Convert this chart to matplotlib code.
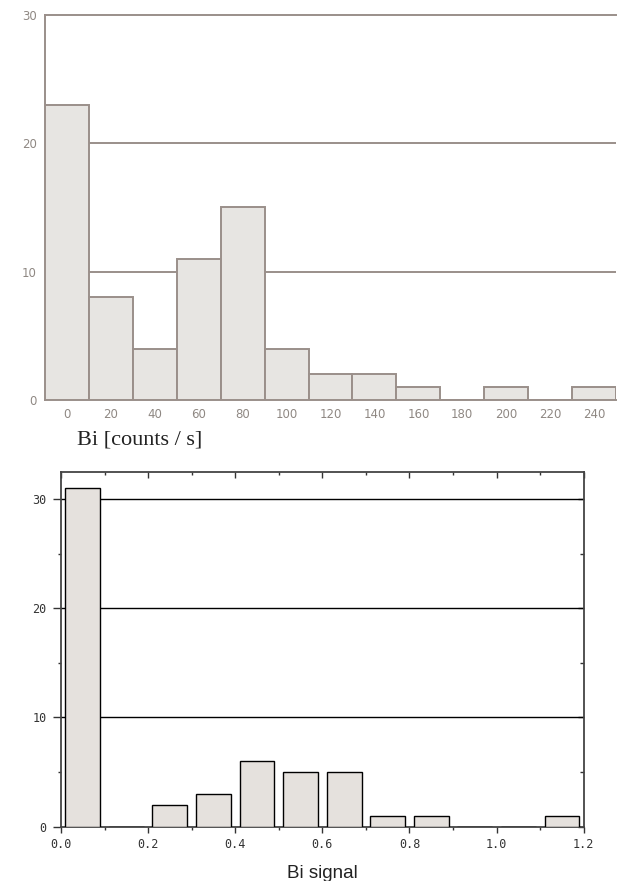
import matplotlib
matplotlib.use("Agg")
import matplotlib.pyplot as plt

# top panel: Bi [counts / s]
top_bins = [0, 20, 40, 60, 80, 100, 120, 140, 160, 180, 200, 220, 240]
top_counts = [23, 8, 4, 11, 15, 4, 2, 2, 1, 0, 1, 0, 1]
top_yticks = [0, 10, 20, 30]

# bottom panel: Bi signal
bot_bins = [0.05, 0.15, 0.25, 0.35, 0.45, 0.55, 0.65, 0.75, 0.85, 0.95, 1.05, 1.15]
bot_counts = [31, 0, 2, 3, 6, 5, 5, 1, 1, 0, 0, 1]
bot_xticks = [0.0, 0.2, 0.4, 0.6, 0.8, 1.0, 1.2]
bot_yticks = [0, 10, 20, 30]

brown = '#9a8f8a'
fig = plt.figure(figsize=(6.27, 8.81), dpi=100)

# ---- top chart (scanned look) ----
ax1 = fig.add_axes([0.0718, 0.5460, 0.9107, 0.4370])
ax1.bar(top_bins, top_counts, width=20, color='#e7e5e2', edgecolor=brown, linewidth=1.4, zorder=3)
for yv in top_yticks[1:3]:
    ax1.axhline(yv, color=brown, linewidth=1.4, zorder=1)
ax1.set_xlim(-10, 250)
ax1.set_ylim(0, 30)
ax1.set_xticks(top_bins)
ax1.set_xticklabels([str(b) for b in top_bins])
ax1.set_yticks(top_yticks)
ax1.tick_params(length=0, labelsize=8.5, labelcolor='#8f8883')
ax1.tick_params(axis='x', pad=5.5)
ax1.tick_params(axis='y', pad=6)
for s in ['left', 'top', 'bottom']:
    ax1.spines[s].set_color(brown)
    ax1.spines[s].set_linewidth(1.4)
ax1.spines['right'].set_visible(False)

fig.text(77 / 627, 1 - 440 / 881, 'Bi [counts / s]', family='Liberation Serif',
         fontsize=16, color='#222222', ha='left', va='center')

# ---- bottom chart ----
dark = '#333333'
ax2 = fig.add_axes([0.0973, 0.0616, 0.8337, 0.4030])
ax2.bar(bot_bins, bot_counts, width=0.08, color='#e5e1dd', edgecolor='black', linewidth=1.0, zorder=3)
for yv in bot_yticks[1:]:
    ax2.axhline(yv, color='black', linewidth=1.0, zorder=1)
ax2.set_xlim(0, 1.2)
ax2.set_ylim(0, 32.5)
ax2.set_xticks(bot_xticks)
ax2.set_xticklabels(['%.1f' % v for v in bot_xticks])
ax2.set_xticks([0.1, 0.3, 0.5, 0.7, 0.9, 1.1], minor=True)
ax2.set_yticks(bot_yticks)
ax2.set_yticks([5, 15, 25], minor=True)
ax2.tick_params(axis='x', which='major', direction='out', length=4.3, width=1, color=dark,
                labelsize=8.5, labelcolor=dark, pad=4)
ax2.tick_params(axis='x', which='minor', direction='out', length=2.2, width=1, color=dark)
ax2.tick_params(axis='y', which='major', direction='out', length=5.8, width=1, color=dark,
                labelsize=8.5, labelcolor=dark, pad=4.5)
ax2.tick_params(axis='y', which='minor', direction='out', length=2.2, width=1, color=dark)
for lab in ax2.get_xticklabels() + ax2.get_yticklabels():
    lab.set_family('DejaVu Sans Mono')
for s in ax2.spines.values():
    s.set_color('#444444')
    s.set_linewidth(1.3)

# inward ticks on top and right
top_ax = ax2.secondary_xaxis('top')
top_ax.set_xticks(bot_xticks)
top_ax.set_xticks([0.1, 0.3, 0.5, 0.7, 0.9, 1.1], minor=True)
top_ax.tick_params(which='major', direction='in', length=4.3, width=1, color=dark, labeltop=False)
top_ax.tick_params(which='minor', direction='in', length=2.2, width=1, color=dark)
top_ax.spines['top'].set_visible(False)
right_ax = ax2.secondary_yaxis('right')
right_ax.set_yticks(bot_yticks)
right_ax.set_yticks([5, 15, 25], minor=True)
right_ax.tick_params(which='major', direction='in', length=4.3, width=1, color=dark, labelright=False)
right_ax.tick_params(which='minor', direction='in', length=3, width=1, color=dark)
right_ax.spines['right'].set_visible(False)

fig.text(322 / 627, 3.5 / 881, 'Bi signal', family='Liberation Sans', fontsize=13.5,
         color='#222222', ha='center', va='baseline')

fig.savefig('out.png', dpi=100)
